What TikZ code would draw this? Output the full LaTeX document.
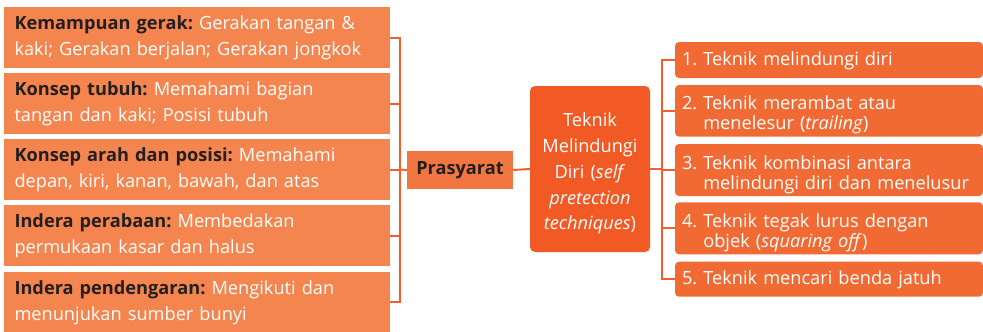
\documentclass[tikz,border=0pt]{standalone}
\usepackage{fontspec}
\setmainfont{Open Sans}
\frenchspacing
\definecolor{lboxc}{HTML}{F4854F}
\definecolor{preC}{HTML}{F2763F}
\definecolor{ctrC}{HTML}{F15A24}
\definecolor{rboxc}{HTML}{F26A33}
\definecolor{lineC}{HTML}{F1602A}
\definecolor{darkT}{HTML}{231F20}
\newcommand{\nohyph}{\hyphenpenalty=10000\relax}
\tikzset{
  lbox/.style={fill=lboxc, draw=none, minimum width=386pt, minimum height=61pt, text width=365pt, inner xsep=10.5pt, inner ysep=0pt, align=left, text=white, font={\fontsize{18.2}{26}\selectfont\nohyph}},
  rbox/.style={fill=rboxc, draw=none, rounded corners=4pt, minimum width=308pt, text width=294pt, inner xsep=7pt, inner ysep=0pt, align=left, text=white, font={\fontsize{18.2}{20}\selectfont}},
  conn/.style={draw=lineC, line width=2pt},
}
\newcommand{\lbl}[1]{\textcolor{darkT}{\textbf{#1}}}
\newcommand{\itmA}[2]{\begin{tabular}{@{}l@{\ }l@{}}\rule[-6pt]{0pt}{23pt}#1 & #2\end{tabular}}
\newcommand{\itmB}[3]{\begin{tabular}{@{}l@{\ }l@{}}\rule{0pt}{24pt}#1 & #2\\ \rule[-6pt]{0pt}{6pt} & #3\end{tabular}}
\begin{document}
\begin{tikzpicture}[x=1pt,y=-1pt]
\useasboundingbox (0,0) rectangle (983,332);
\node[lbox] (l1) at (197,37.5) {\strut\lbl{Kemampuan gerak:} Gerakan tangan \& kaki; Gerakan berjalan; Gerakan jongkok\strut};
\node[lbox] (l2) at (197,103.5) {\strut\lbl{Konsep tubuh:} Memahami bagian\\tangan dan kaki; Posisi tubuh\strut};
\node[lbox] (l3) at (197,169.5) {\strut\lbl{Konsep arah dan posisi:} Memahami depan, kiri, kanan, bawah, dan atas\strut};
\node[lbox] (l4) at (197,235.5) {\strut\lbl{Indera perabaan:} Membedakan permukaan kasar dan halus\strut};
\node[lbox] (l5) at (197,302) {\strut\lbl{Indera pendengaran:} Mengikuti dan menunjukan sumber bunyi\strut};
\node[fill=preC, minimum width=106pt, minimum height=38pt, inner sep=0pt, text=darkT, font={\fontsize{18.2}{22}\selectfont\bfseries}] (pre) at (460,170) {Prasyarat};
\node[fill=ctrC, rounded corners=5pt, minimum width=120pt, minimum height=166pt, inner sep=0pt, text width=116pt, align=center, text=white, font={\fontsize{18.2}{25.8}\selectfont}] (ctr) at (590,169) {\rule{0pt}{26.3pt}Teknik\\Melindungi\\Diri (\textit{self}\\\textit{pretection}\\\textit{techniques})\strut};
\node[rbox, minimum height=36pt] (r1) at (829,60) {\itmA{1.}{Teknik melindungi diri}};
\node[rbox, minimum height=51.5pt] (r2) at (829,110.8) {\itmB{2.}{Teknik merambat atau}{menelesur (\textit{trailing})}};
\node[rbox, minimum height=52pt] (r3) at (829,170) {\itmB{3.}{Teknik kombinasi antara}{melindungi diri dan menelusur}};
\node[rbox, minimum height=52pt] (r4) at (829,228.3) {\itmB{4.}{Teknik tegak lurus dengan}{objek (\textit{squaring off})}};
\node[rbox, minimum height=35pt] (r5) at (829,279.2) {\itmA{5.}{Teknik mencari benda jatuh}};
\coordinate (jl) at (400,169.5);
\coordinate (jr) at (662,169);
\foreach \n in {l1,l2,l3,l4,l5} \draw[conn] (\n.east) -| (jl);
\draw[conn] (jl) -- (pre.west);
\draw[conn] (pre.east) -- (ctr.west);
\draw[conn] (ctr.east) -- (jr);
\foreach \n in {r1,r2,r3,r4,r5} \draw[conn] (jr) |- (\n.west);
\end{tikzpicture}
\end{document}
